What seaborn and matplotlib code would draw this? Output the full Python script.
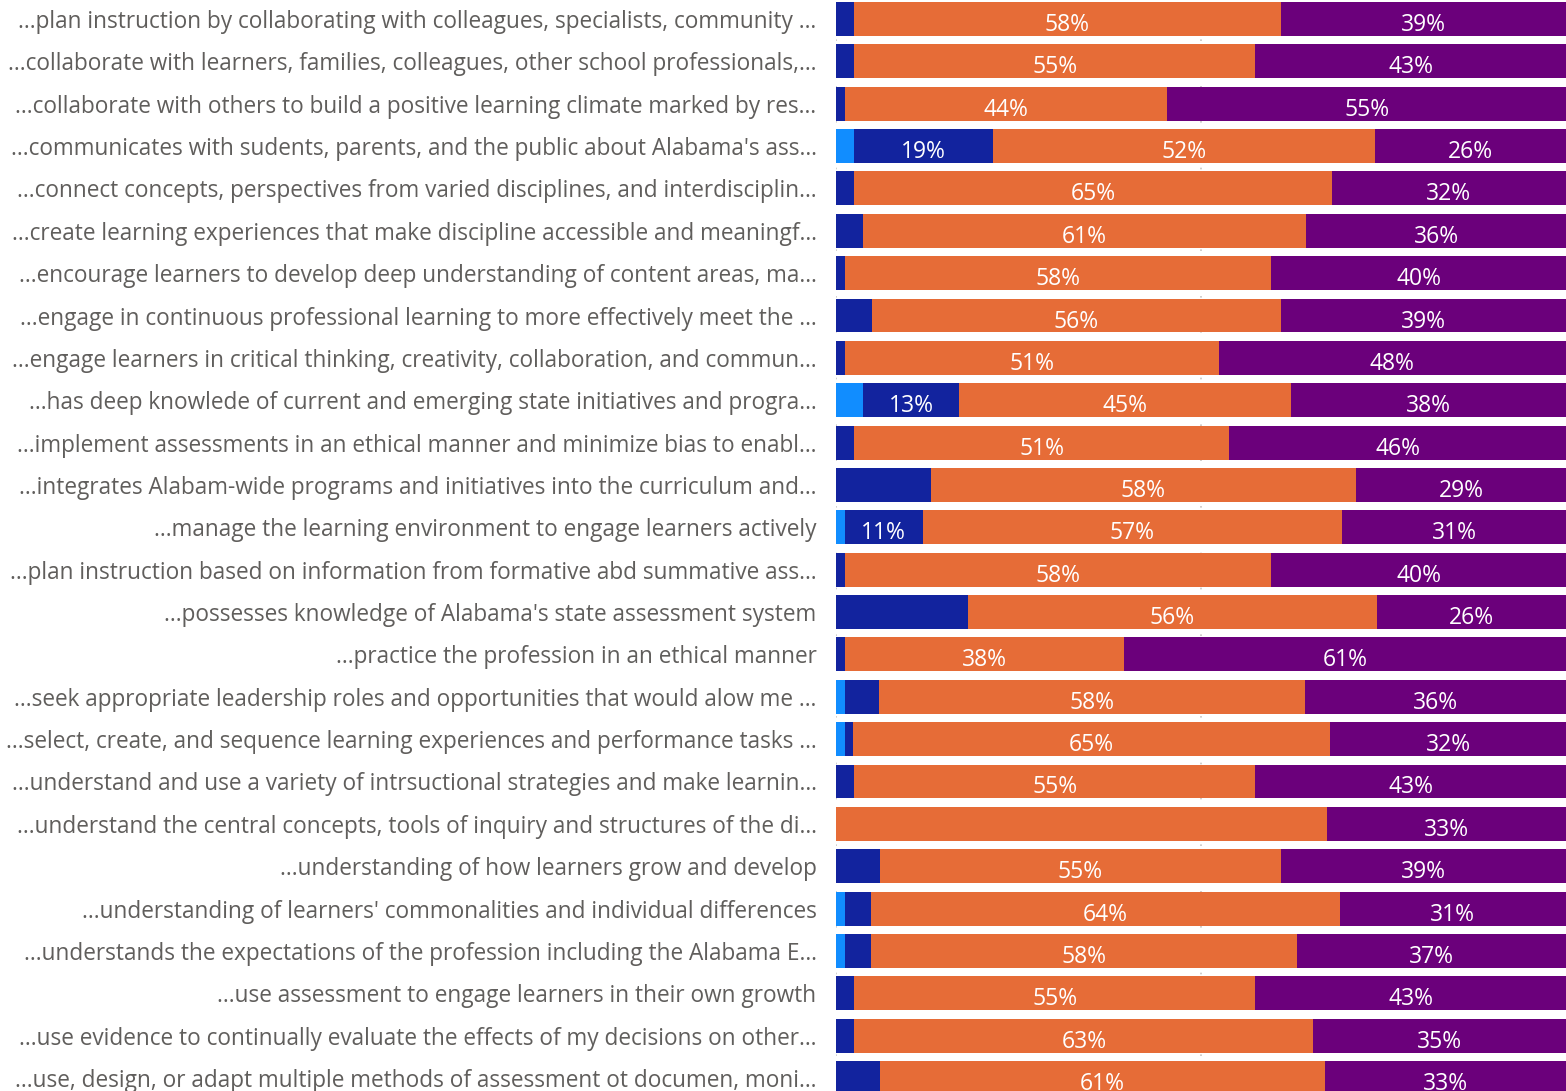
import numpy as np
import pandas as pd
import matplotlib
matplotlib.use("Agg")
import matplotlib.pyplot as plt
import seaborn as sns

# Survey statements (as shown, truncated)
statements = [
    "...plan instruction by collaborating with colleagues, specialists, community …",
    "...collaborate with learners, families, colleagues, other school professionals,…",
    "...collaborate with others to build a positive learning climate marked by res…",
    "...communicates with sudents, parents, and the public about Alabama's ass…",
    "...connect concepts, perspectives from varied disciplines, and interdisciplin…",
    "...create learning experiences that make discipline accessible and meaningf…",
    "...encourage learners to develop deep understanding of content areas, ma…",
    "...engage in continuous professional learning to more effectively meet the …",
    "...engage learners in critical thinking, creativity, collaboration, and commun…",
    "...has deep knowlede of current and emerging state initiatives and progra…",
    "...implement assessments in an ethical manner and minimize bias to enabl…",
    "...integrates Alabam-wide programs and initiatives into the curriculum and…",
    "...manage the learning environment to engage learners actively",
    "...plan instruction based on information from formative abd summative ass…",
    "...possesses knowledge of Alabama's state assessment system",
    "...practice the profession in an ethical manner",
    "...seek appropriate leadership roles and opportunities that would alow me …",
    "...select, create, and sequence learning experiences and performance tasks …",
    "...understand and use a variety of intrsuctional strategies and make learnin…",
    "...understand the central concepts, tools of inquiry and structures of the di…",
    "...understanding of how learners grow and develop",
    "...understanding of learners' commonalities and individual differences",
    "...understands the expectations of the profession including the Alabama E…",
    "...use assessment to engage learners in their own growth",
    "...use evidence to continually evaluate the effects of my decisions on other…",
    "...use, design, or adapt multiple methods of assessment ot documen, moni…",
]

# Response shares (%), left to right
strongly_disagree = [0, 0, 0, 2.5, 0, 0, 0, 0, 0, 3.7, 0, 0, 1.2, 0, 0, 0,
                     1.2, 1.2, 0, 0, 0, 1.2, 1.2, 0, 0, 0]
disagree = [2.5, 2.5, 1.2, 19.0, 2.5, 3.7, 1.2, 4.9, 1.2, 13.2, 2.5, 13.0, 10.7,
            1.2, 18.1, 1.2, 4.7, 1.1, 2.5, 0, 6.0, 3.6, 3.6, 2.5, 2.5, 6.0]
agree = [58.4, 54.9, 44.2, 52.4, 65.4, 60.7, 58.4, 56.0, 51.2, 45.4, 51.4, 58.2,
         57.4, 58.4, 56.0, 38.2, 58.3, 65.4, 54.9, 67.3, 55.0, 64.2, 58.4, 54.9,
         62.9, 61.0]
strongly_agree = [39.1, 42.6, 54.6, 26.1, 32.1, 35.6, 40.4, 39.1, 47.6, 37.7, 46.1,
                  28.8, 30.7, 40.4, 25.9, 60.6, 35.8, 32.3, 42.6, 32.7, 39.0, 31.0,
                  36.8, 42.6, 34.6, 33.0]

# data labels the original chart leaves out (row index, series index)
hidden_labels = [(11, 1), (14, 1), (19, 2)]

series = [strongly_disagree, disagree, agree, strongly_agree]
colors = ["#118DFF", "#12239E", "#E66C37", "#6B007B"]

df = pd.DataFrame({"statement": statements})
vals = np.array(series)
cum = np.cumsum(vals, axis=0)

sns.set_style("white")
plt.rcParams["font.family"] = ["Open Sans", "DejaVu Sans"]

fig = plt.figure(figsize=(15.66, 10.91), dpi=100)
ax = fig.add_axes([836 / 1566, 0, 730 / 1566, 1])

# faint dotted gridlines behind the bars
for gx in [0, 50]:
    ax.axvline(gx, color="#C8C6C4", lw=1.2, ls=(0, (1, 6)), zorder=0)

# stacked bars: draw cumulative totals from the right-most series down
for k in range(len(series) - 1, -1, -1):
    df["cum"] = cum[k]
    sns.barplot(data=df, x="cum", y="statement", orient="h", color=colors[k],
                saturation=1, width=0.8, ax=ax, zorder=2, linewidth=0)

# percent labels centred in each segment
for i in range(len(statements)):
    for k in range(len(series)):
        v = vals[k, i]
        if v < 10 or (i, k) in hidden_labels:
            continue
        xc = cum[k, i] - v / 2
        ax.annotate("%.0f%%" % v, xy=(xc, i), xytext=(0, -12),
                    textcoords="offset pixels", ha="center", va="baseline",
                    color="white", fontsize=16.5, zorder=3)

ax.set_xlim(0, 100)
ax.set_ylim((1091 - 19) / 42.36, -19 / 42.36)
ax.set_xlabel("")
ax.set_ylabel("")
ax.set_xticks([])
sns.despine(ax=ax, left=True, bottom=True)
ax.tick_params(axis="y", length=0, pad=14, labelsize=16.3, labelcolor="#605E5C")

fig.savefig("out.png", dpi=100)
